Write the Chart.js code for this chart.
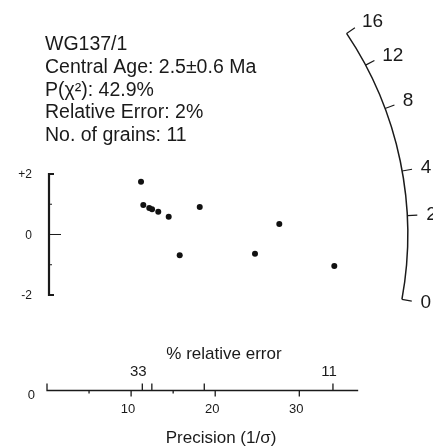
<!DOCTYPE html>
<html>
<head>
<meta charset="utf-8">
<script src="https://cdn.jsdelivr.net/npm/chart.js@4.4.1/dist/chart.umd.min.js"></script>
<style>
  html, body { margin: 0; padding: 0; background: #fff; }
</style>
</head>
<body>
<canvas id="radial" width="433" height="448"></canvas>
<script>
// sample summary block
const sampleInfo = ['WG137/1', 'Central Age: 2.5\u00B10.6 Ma', 'P(\u03C7\u00B2): 42.9%', 'Relative Error: 2%', 'No. of grains: 11'];

// grains: precision (1/sigma) and standardised estimate
const precision = [11.18, 11.45, 12.16, 12.49, 13.23, 14.47, 15.78, 18.16, 24.73, 27.62, 34.16];
const zScore    = [1.745, 0.975, 0.876, 0.833, 0.754, 0.588, -0.688, 0.909, -0.635, 0.347, -1.041];

// axis ticks
const precisionTicks = [10, 20, 30];
const precisionMinor = [5, 15];
const zTicks = [2, 0, -2];
const zLabels = ['+2', '0', '-2'];
const zMinor = [1, -1];
const relErrTicks = [33, 30, 20, 11];
const relErrLabels = ['33', '', '', '11'];
const ageTicks = [0, 2, 4, 8, 12, 16];

const relErrK = 374;      // precision = relErrK / % relative error
const arcRadius = 42.9;   // radius of age arc, precision units
const precisionMax = 37;

// age -> slope of the radial line (z per unit precision)
function ageSlope(t) {
    return 0.04255 * Math.pow(t, 0.62) - 0.0508;
}

const FONT = '"Liberation Sans", Arial, sans-serif';

const radialDecor = {
    id: 'radialDecor',
    afterDraw(chart) {
        const { ctx, scales: { x, y } } = chart;
        const x0 = x.getPixelForValue(0), y0 = y.getPixelForValue(0);
        ctx.save();
        ctx.strokeStyle = '#1a1a1a';
        ctx.fillStyle = '#1a1a1a';

        // summary text
        ctx.font = '19.5px ' + FONT;
        ctx.textAlign = 'left';
        ctx.textBaseline = 'alphabetic';
        sampleInfo.forEach((s, i) => ctx.fillText(s, 45, 50 + i * 22.75));

        // z bracket
        const xb = x0 + 2;
        const yTop = y.getPixelForValue(2), yBot = y.getPixelForValue(-2);
        ctx.lineWidth = 2.2;
        ctx.beginPath();
        ctx.moveTo(xb + 5, yTop); ctx.lineTo(xb, yTop);
        ctx.lineTo(xb, yBot); ctx.lineTo(xb + 5, yBot);
        ctx.stroke();
        ctx.lineWidth = 1;
        ctx.beginPath();
        ctx.moveTo(xb, y0); ctx.lineTo(xb + 12, y0);
        zMinor.forEach(v => {
            const py = y.getPixelForValue(v);
            ctx.moveTo(xb, py); ctx.lineTo(xb + 3, py);
        });
        ctx.stroke();
        ctx.font = '12px ' + FONT;
        ctx.textAlign = 'right';
        ctx.textBaseline = 'middle';
        zTicks.forEach((v, i) => ctx.fillText(zLabels[i], 32, y.getPixelForValue(v) + 1));

        // precision axis
        const ya = 390.5;
        const xEnd = x.getPixelForValue(precisionMax);
        ctx.lineWidth = 1.3;
        ctx.beginPath();
        ctx.moveTo(x0, ya - 7); ctx.lineTo(x0, ya); ctx.lineTo(xEnd, ya);
        precisionTicks.forEach(v => {
            const px = x.getPixelForValue(v);
            ctx.moveTo(px, ya); ctx.lineTo(px, ya + 6);
        });
        precisionMinor.forEach(v => {
            const px = x.getPixelForValue(v);
            ctx.moveTo(px, ya); ctx.lineTo(px, ya + 3);
        });
        relErrTicks.forEach(v => {
            const px = x.getPixelForValue(relErrK / v);
            ctx.moveTo(px, ya); ctx.lineTo(px, ya - 7);
        });
        ctx.stroke();

        ctx.textAlign = 'center';
        ctx.textBaseline = 'middle';
        ctx.font = '13px ' + FONT;
        precisionTicks.forEach(v => ctx.fillText(String(v), x.getPixelForValue(v) - 3, ya + 19));
        ctx.textAlign = 'right';
        ctx.fillText('0', 35, ya + 5);
        ctx.textAlign = 'center';
        ctx.font = '15px ' + FONT;
        relErrTicks.forEach((v, i) => {
            if (relErrLabels[i]) ctx.fillText(relErrLabels[i], x.getPixelForValue(relErrK / v) - 4, ya - 19);
        });
        ctx.font = '17px ' + FONT;
        ctx.fillText('% relative error', 224, 354);
        ctx.fillText('Precision (1/\u03C3)', 221, 438);

        // age arc
        const R = x.getPixelForValue(arcRadius) - x0;
        const dirOf = t => {
            const dx = x.getPixelForValue(1) - x0;
            const dy = y.getPixelForValue(ageSlope(t)) - y0;
            return Math.atan2(dy, dx);
        };
        const aStart = dirOf(ageTicks[ageTicks.length - 1]);
        const aEnd = dirOf(ageTicks[0]);
        ctx.lineWidth = 1.5;
        ctx.beginPath();
        ctx.arc(x0, y0, R, aStart, aEnd, false);
        ctx.stroke();
        ctx.beginPath();
        ageTicks.forEach(t => {
            const a = dirOf(t);
            ctx.moveTo(x0 + R * Math.cos(a), y0 + R * Math.sin(a));
            ctx.lineTo(x0 + (R + 10) * Math.cos(a), y0 + (R + 10) * Math.sin(a));
        });
        ctx.lineWidth = 1.2;
        ctx.stroke();
        ctx.font = '19px ' + FONT;
        ctx.textAlign = 'left';
        ctx.textBaseline = 'middle';
        ageTicks.forEach(t => {
            const a = dirOf(t);
            ctx.fillText(String(t), x0 + (R + 21) * Math.cos(a) - 2, y0 + (R + 21) * Math.sin(a));
        });
        ctx.restore();
    }
};

new Chart(document.getElementById('radial'), {
    type: 'scatter',
    data: {
        datasets: [{
            data: precision.map((p, i) => ({ x: p, y: zScore[i] })),
            pointRadius: 3,
            pointBackgroundColor: '#111',
            pointBorderWidth: 0
        }]
    },
    options: {
        responsive: false,
        animation: false,
        layout: { padding: { left: 47, right: 0, top: 0, bottom: 0 } },
        plugins: { legend: { display: false }, tooltip: { enabled: false } },
        scales: {
            x: { type: 'linear', display: false, min: 0, max: 45.42 },
            y: { type: 'linear', display: false, min: -6.926, max: 7.62 }
        }
    },
    plugins: [radialDecor]
});
</script>
</body>
</html>
